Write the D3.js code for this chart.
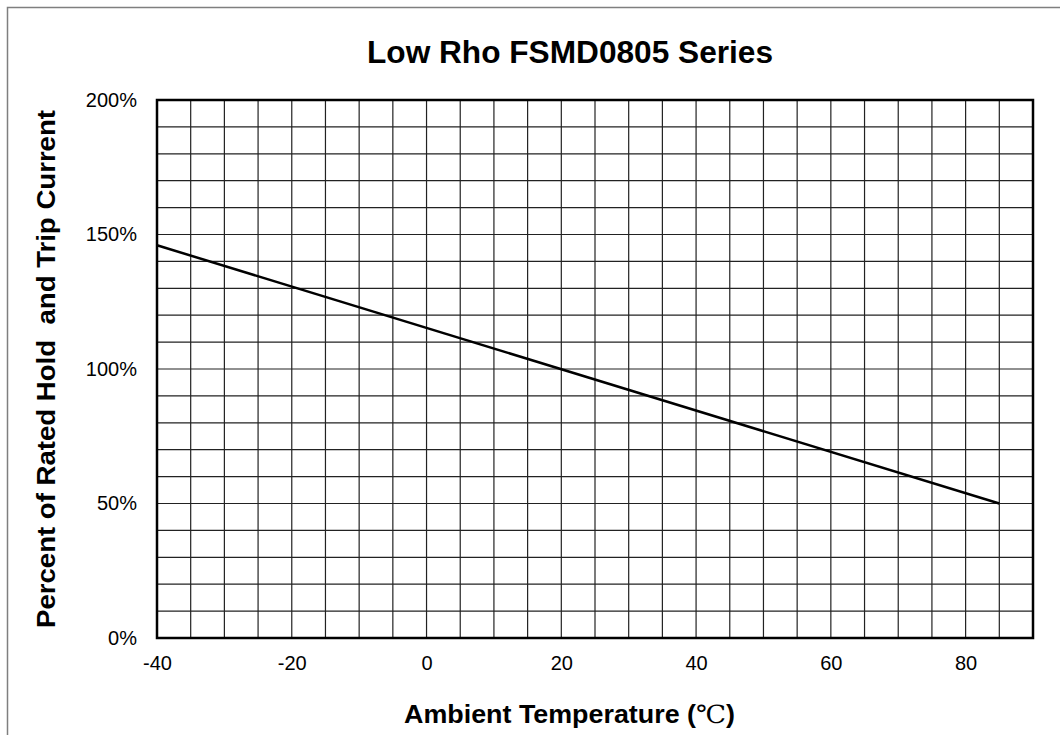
<!DOCTYPE html>
<html>
<head>
<meta charset="utf-8">
<script src="https://cdn.jsdelivr.net/npm/d3@7"></script>
<style>
  html, body { margin: 0; padding: 0; background: #fff; }
  svg { display: block; }
  text { font-family: "Liberation Sans", Arial, sans-serif; fill: #000; white-space: pre; }
</style>
</head>
<body>
<svg id="chart" width="1060" height="735"></svg>
<script>
// ---- data ----
const temperatureC = [-40, 85];
const percentRated = [146, 50];
const xTickValues = [-40, -20, 0, 20, 40, 60, 80];
const xTickLabels = ["-40", "-20", "0", "20", "40", "60", "80"];
const yTickValues = [0, 50, 100, 150, 200];
const yTickLabels = ["0%", "50%", "100%", "150%", "200%"];
const xGridValues = d3.range(-40, 91, 5);
const yGridValues = d3.range(0, 201, 10);
const titleText = "Low Rho FSMD0805 Series";
const xTitleText = "Ambient Temperature (";
const yTitleText = "Percent of Rated Hold  and Trip Current";

const svg = d3.select("#chart");
const mLeft = 157, mRight = 1033, mTop = 100, mBottom = 638;

// outer border
svg.append("rect").attr("x", 7.5).attr("y", 7.5).attr("width", 1100).attr("height", 800)
  .attr("fill", "none").attr("stroke", "#7f7f7f").attr("stroke-width", 1.5);

const x = d3.scaleLinear().domain([-40, 90]).range([mLeft, mRight]);
const y = d3.scaleLinear().domain([0, 200]).range([mBottom, mTop]);

// grid
const grid = svg.append("g");
grid.selectAll("line.v").data(xGridValues).join("line").attr("class", "v")
  .attr("x1", d => x(d)).attr("x2", d => x(d)).attr("y1", mTop).attr("y2", mBottom)
  .attr("stroke", "#222").attr("stroke-width", 1.2);
grid.selectAll("line.h").data(yGridValues).join("line").attr("class", "h")
  .attr("y1", d => y(d)).attr("y2", d => y(d)).attr("x1", mLeft).attr("x2", mRight)
  .attr("stroke", "#222").attr("stroke-width", 1.2);

// frame
svg.append("rect").attr("x", mLeft).attr("y", mTop).attr("width", mRight - mLeft).attr("height", mBottom - mTop)
  .attr("fill", "none").attr("stroke", "#000").attr("stroke-width", 2.5);

// data line
svg.append("path")
  .datum(temperatureC.map((t, i) => [t, percentRated[i]]))
  .attr("d", d3.line().x(d => x(d[0])).y(d => y(d[1])))
  .attr("fill", "none").attr("stroke", "#000").attr("stroke-width", 2.5);

// axes
const xAxis = svg.append("g").attr("transform", `translate(0,${mBottom})`)
  .call(d3.axisBottom(x).tickValues(xTickValues).tickSize(0).tickPadding(18)
    .tickFormat((d, i) => xTickLabels[i]));
const yAxis = svg.append("g").attr("transform", `translate(${mLeft},0)`)
  .call(d3.axisLeft(y).tickValues(yTickValues).tickSize(0).tickPadding(20)
    .tickFormat((d, i) => yTickLabels[i]));
[xAxis, yAxis].forEach(a => {
  a.select(".domain").remove();
  a.attr("font-size", null).attr("font-family", null);
  a.selectAll("text").attr("font-family", "Liberation Sans, Arial, sans-serif")
    .style("font-size", "20px").attr("fill", "#000");
});

// title
svg.append("text").attr("x", 570).attr("y", 63).attr("text-anchor", "middle")
  .attr("font-size", 31).attr("font-weight", "bold")
  .attr("textLength", 406).attr("lengthAdjust", "spacingAndGlyphs")
  .text(titleText);

// x title
const xt = svg.append("text").attr("x", 569.5).attr("y", 723).attr("text-anchor", "middle")
  .attr("font-size", 25).attr("font-weight", "bold")
  .attr("textLength", 331).attr("lengthAdjust", "spacingAndGlyphs");
xt.append("tspan").text(xTitleText);
xt.append("tspan").attr("font-family", "Liberation Serif, DejaVu Serif, serif").attr("font-weight", "normal").text("℃");
xt.append("tspan").text(")");

// y title
svg.append("text").attr("transform", `translate(55,369) rotate(-90)`).attr("text-anchor", "middle")
  .attr("font-size", 25).attr("font-weight", "bold")
  .attr("textLength", 518).attr("lengthAdjust", "spacingAndGlyphs")
  .text(yTitleText);
</script>
</body>
</html>
